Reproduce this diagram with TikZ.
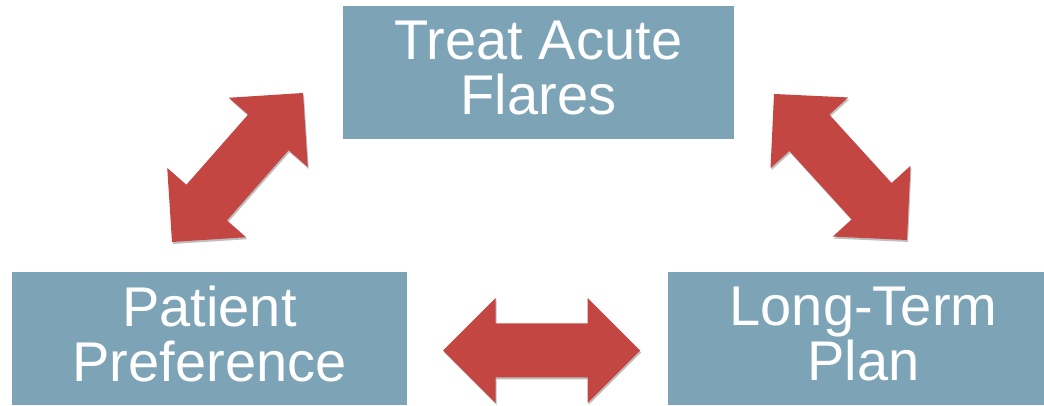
\documentclass[tikz,border=0pt]{standalone}
\usepackage{fontspec}
\setmainfont{Liberation Sans}
\usetikzlibrary{calc,shadows}

\newcommand{\blockarrow}[2]{%
\path[arrowShape] (#1)
 -- ($(#1)!52.5pt!(#2)!52.5pt!90:(#2)$)
 -- ($(#1)!52.5pt!(#2)!27pt!90:(#2)$)
 -- ($(#2)!52.5pt!(#1)!27pt!-90:(#1)$)
 -- ($(#2)!52.5pt!(#1)!52.5pt!-90:(#1)$)
 -- (#2)
 -- ($(#2)!52.5pt!(#1)!52.5pt!90:(#1)$)
 -- ($(#2)!52.5pt!(#1)!27pt!90:(#1)$)
 -- ($(#1)!52.5pt!(#2)!27pt!-90:(#2)$)
 -- ($(#1)!52.5pt!(#2)!52.5pt!-90:(#2)$)
 -- cycle;}

\begin{document}
\begin{tikzpicture}[x=1pt,y=1pt,
  box/.style={fill=boxColor,text=white,minimum width=391,minimum height=133,
    inner sep=0pt,align=center,text depth=9pt,
    font=\fontsize{56}{55}\selectfont},
  arrowShape/.style={fill=arrowColor,
    drop shadow={shadow xshift=1pt,shadow yshift=-2pt,opacity=0.25,fill=black}}]
\definecolor{fillColor}{RGB}{255,255,255}
\definecolor{boxColor}{RGB}{124,163,182}
\definecolor{arrowColor}{RGB}{196,70,67}
\path[use as bounding box,fill=fillColor] (0,0) rectangle (1044,406);
\begin{scope}
\clip (0,0) rectangle (1044,406);

\node[box] (flares) at (538.5,333.5) {Treat Acute\\Flares};

\node[box,minimum width=395] (pref) at (209.5,67.5) {Patient\\Preference};

\node[box] (plan) at (863.5,67.5) {Long-Term\\Plan};

\coordinate (prefTip) at (172,164);
\coordinate (flaresTipL) at (303,313);
\coordinate (flaresTipR) at (774,312);
\coordinate (planTip) at (907,166);
\coordinate (prefTipR) at (443,55.5);
\coordinate (planTipL) at (640,55.5);

\blockarrow{prefTip}{flaresTipL}
\blockarrow{flaresTipR}{planTip}
\blockarrow{prefTipR}{planTipL}
\end{scope}
\end{tikzpicture}
\end{document}
